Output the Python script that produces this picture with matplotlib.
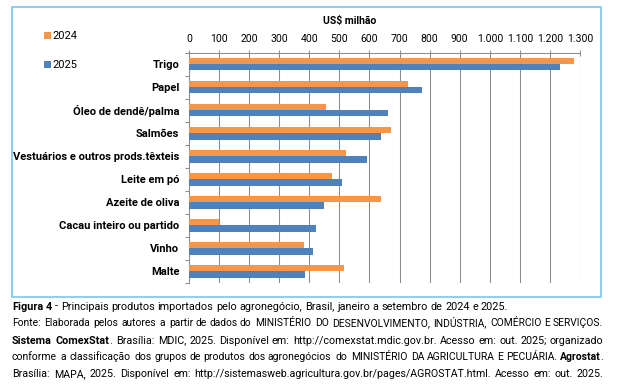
import numpy as np
import matplotlib.pyplot as plt
from matplotlib.patches import Rectangle

plt.rcParams['font.family'] = ['Roboto', 'DejaVu Sans']

produtos = ['Trigo', 'Papel', 'Óleo de dendê/palma', 'Salmões',
            'Vestuários e outros prods.têxteis', 'Leite em pó', 'Azeite de oliva',
            'Cacau inteiro ou partido', 'Vinho', 'Malte']
v2024 = [1279, 728, 457, 671, 522, 475, 639, 100, 383, 516]
v2025 = [1232, 776, 662, 638, 592, 508, 449, 421, 412, 386]
xticks = np.arange(0, 1301, 100)
xlabels = ['0', '100', '200', '300', '400', '500', '600', '700', '800', '900',
           '1.000', '1.100', '1.200', '1.300']

c24 = '#F79646'
c25 = '#4F81BD'
grid = '#8c8c8c'
fs = 7.5

W, H = 621, 391
fig = plt.figure(figsize=(W / 100, H / 100), dpi=100)
ax = fig.add_axes([189 / W, 1 - 283 / H, (580 - 189) / W, (283 - 52.7) / H])

y = np.arange(len(produtos))
h = 0.27
ax.barh(y - h / 2, v2024, height=h, color=c24, label='2024', zorder=3)
ax.barh(y + h / 2, v2025, height=h, color=c25, label='2025', zorder=3)

ax.set_xlim(0, 1300)
ax.set_ylim(len(produtos) - 0.5, -0.5)
ax.xaxis.tick_top()
ax.set_xticks(xticks)
ax.set_xticklabels(xlabels, fontsize=fs)
ax.tick_params(axis='x', direction='inout', length=4.5, width=0.75, color=grid, pad=4)
ax.set_yticks(y)
ax.set_yticklabels(produtos, fontsize=8, fontweight='bold')
ax.set_yticks(np.arange(-0.5, len(produtos)), minor=True)
ax.tick_params(axis='y', which='major', length=0, pad=7)
ax.tick_params(axis='y', which='minor', length=3, width=0.75, color=grid)
ax.grid(axis='x', color=grid, linewidth=0.75, zorder=0)
for s in ['right', 'bottom']:
    ax.spines[s].set_visible(False)
for s in ['left', 'top']:
    ax.spines[s].set_color(grid)
    ax.spines[s].set_linewidth(0.75)

fig.text(350 / W, 1 - 21 / H, 'US$ milhão', fontsize=fs, fontweight='bold',
         ha='center', va='center')

leg = fig.legend(loc='upper left', bbox_to_anchor=(44 / W, 1 - 31 / H),
                 frameon=False, fontsize=8, handlelength=0.6, handleheight=0.6,
                 handletextpad=0.2, labelspacing=1.75, borderpad=0, borderaxespad=0)

# moldura
fig.patches.append(Rectangle((12 / W, 1 - 297 / H), (601 - 12) / W, (297 - 7) / H,
                             transform=fig.transFigure, fill=False,
                             edgecolor='#86CCEB', linewidth=1.3))

# legenda da figura; linhas 2-5 justificadas
linhas = [
    ([('Figura 4', 1), (' - Principais produtos importados pelo agronegócio, Brasil, '
                        'janeiro a setembro de 2024 e 2025.', 0)], False),
    ([('Fonte: Elaborada pelos autores a partir de dados do MINISTÉRIO DO '
       'DESENVOLVIMENTO, INDÚSTRIA, COMÉRCIO E SERVIÇOS.', 0)], True),
    ([('Sistema ComexStat', 1), ('. Brasília: MDIC, 2025. Disponível em: '
                                 'http://comexstat.mdic.gov.br. Acesso em: out. 2025; organizado', 0)],
     True),
    ([('conforme a classificação dos grupos de produtos dos agronegócios do '
       'MINISTÉRIO DA AGRICULTURA E PECUÁRIA.', 0), (' Agrostat', 1), ('.', 0)], True),
    ([('Brasília: MAPA, 2025. Disponível em: '
       'http://sistemasweb.agricultura.gov.br/pages/AGROSTAT.html. Acesso em: out. 2025.', 0)],
     True),
]
ys = [309.5, 326.5, 343.5, 360.5, 377]
x_left, x_right = 12, 603
HS = '\u200a'
fig.canvas.draw()
r = fig.canvas.get_renderer()


def largura(txt, cfs, b=0):
    t = fig.text(0, 0, txt, fontsize=cfs, fontweight='bold' if b else 'normal')
    w = t.get_window_extent(renderer=r).width
    t.remove()
    return w


def avanco(txt, cfs, b=0):
    # avanço da pena, entre duas barras para não depender do contorno
    return largura('|' + txt + '|', cfs, b) - largura('||', cfs, b)


def medidas(segs, cfs):
    sp = largura('a a', cfs) - largura('aa', cfs)
    hs = (largura('a' + HS * 10 + 'a', cfs) - largura('aa', cfs)) / 10
    nat = 0
    for txt, b in segs:
        if txt.startswith(' '):
            nat += sp
        nat += avanco(txt.lstrip(' '), cfs, b)
    return sp, hs, nat


for (segs, just), yy in zip(linhas, ys):
    cfs = 7.8
    sp, hs, nat = medidas(segs, cfs)
    while just and nat > (x_right - x_left) - 2:
        cfs *= (x_right - x_left - 4) / nat
        sp, hs, nat = medidas(segs, cfs)
    n_esp = sum(t.count(' ') for t, _ in segs)
    k_tot = int(round((x_right - x_left - nat) / hs)) if just else 0
    ks = [k_tot // n_esp + (1 if i < k_tot % n_esp else 0) for i in range(n_esp)] if n_esp else []
    ks = ks[::2] + ks[1::2]
    i = 0
    x = x_left
    for txt, b in segs:
        if txt.startswith(' '):
            x += sp + ks[i] * hs
            i += 1
            txt = txt[1:]
        partes = txt.split(' ')
        novo = partes[0]
        inicios = [0]
        for p in partes[1:]:
            novo += ' ' + HS * ks[i]
            inicios.append(avanco(novo, cfs, b))
            novo += p
            i += 1
        # cada palavra como texto próprio
        for p, dx in zip(partes, inicios):
            fig.text((x + dx) / W, 1 - yy / H, p, fontsize=cfs, va='baseline',
                     fontweight='bold' if b else 'normal')
        x += avanco(novo, cfs, b)

fig.savefig('out.png', dpi=100)
